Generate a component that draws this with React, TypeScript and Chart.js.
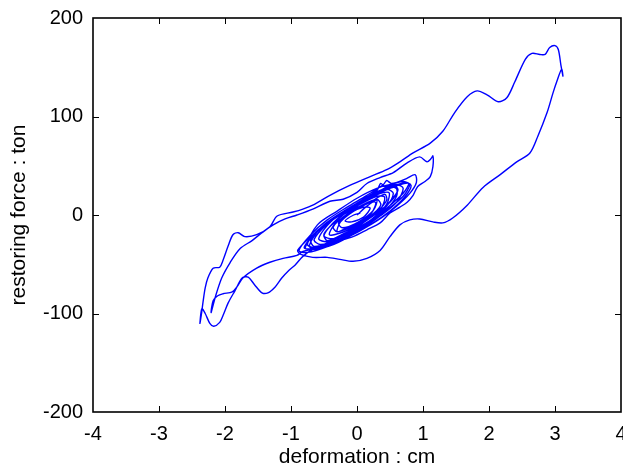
import React, { useEffect, useRef } from "react";
import { Chart, registerables } from "chart.js";

Chart.register(...registerables);

type Pt = [number, number];

const xTickValues = [-4, -3, -2, -1, 0, 1, 2, 3, 4];
const yTickValues = [-200, -100, 0, 100, 200];

const warmUpLoops: Pt[] = [
  [0, 0], [0.15, 9], [0.3, 15], [0.25, 5], [0.05, -6], [-0.15, -13], [-0.3, -17], [-0.25, -7],
  [-0.05, 4], [0.2, 13], [0.42, 21], [0.45, 15], [0.3, 3], [0.05, -10], [-0.2, -19], [-0.45, -26],
  [-0.5, -19], [-0.3, -5], [-0.05, 8], [0.25, 19], [0.55, 28], [0.62, 25], [0.5, 13], [0.2, -3],
  [-0.1, -16], [-0.4, -27], [-0.65, -32], [-0.7, -25], [-0.5, -11], [-0.2, 2], [0.15, 15],
  [0.45, 26], [0.72, 33], [0.8, 31], [0.7, 19], [0.45, 5], [0.1, -11], [-0.3, -26], [-0.62, -34],
  [-0.82, -37],
];

const middleLoopLeft: Pt[] = [
  [-0.91, -41], [-1.12, -44], [-1.32, -48], [-1.52, -54], [-1.73, -64], [-1.82, -73],
  [-1.89, -78], [-2.03, -80], [-2.11, -82], [-2.18, -87], [-2.21, -99],
];

const middleLoopUpper: Pt[] = [
  [-2.15, -84], [-2.05, -64], [-1.92, -48], [-1.77, -34], [-1.59, -26], [-1.44, -18],
  [-1.27, -10], [-1.09, -4], [-0.91, 0], [-0.67, 6], [-0.41, 14], [-0.21, 16], [0, 23],
  [0.15, 32], [0.35, 38], [0.55, 43], [0.76, 53], [0.95, 59], [1.06, 54], [1.12, 57], [1.15, 60],
];

const middleLoopReturn: Pt[] = [
  [1.15, 49], [1.11, 39], [1.03, 34], [0.92, 29], [0.85, 20], [0.76, 13], [0.65, 8], [0.5, 2],
  [0.35, -8], [0.15, -15], [-0.06, -22], [-0.26, -26], [-0.45, -29], [-0.67, -35], [-0.82, -42],
];

const bigLoopLeft: Pt[] = [
  [-0.94, -51], [-1.03, -56], [-1.14, -64], [-1.24, -73], [-1.35, -79], [-1.44, -79],
  [-1.55, -71], [-1.65, -63], [-1.74, -64], [-1.85, -77], [-1.95, -89], [-2.03, -102],
  [-2.08, -109], [-2.17, -113], [-2.23, -110], [-2.3, -100], [-2.35, -95], [-2.38, -110],
];

const bigLoopUpper: Pt[] = [
  [-2.36, -102], [-2.33, -87], [-2.3, -74], [-2.26, -64], [-2.18, -54], [-2.08, -53],
  [-2.03, -46], [-1.95, -31], [-1.88, -20], [-1.8, -18], [-1.7, -22], [-1.52, -20],
  [-1.32, -12], [-1.21, -1], [-0.97, 3], [-0.82, 6], [-0.67, 10], [-0.41, 20], [-0.11, 30],
  [0.2, 39], [0.45, 46], [0.65, 54], [0.85, 63], [1.11, 73], [1.3, 85], [1.48, 104],
  [1.67, 120], [1.82, 126], [1.97, 122], [2.14, 115], [2.27, 119], [2.39, 135], [2.55, 158],
  [2.65, 164], [2.77, 163], [2.85, 163], [2.92, 170], [3.0, 172], [3.05, 168], [3.09, 152],
  [3.12, 141],
];

const bigLoopReturn: Pt[] = [
  [3.1, 148], [3.03, 136], [2.97, 124], [2.88, 104], [2.74, 80], [2.62, 63], [2.42, 54],
  [2.17, 41], [1.91, 28], [1.67, 10], [1.45, -3], [1.3, -8], [1.15, -7], [0.95, -4], [0.8, -5],
  [0.65, -10], [0.5, -22], [0.35, -36], [0.15, -44], [-0.06, -47], [-0.26, -45], [-0.45, -43],
  [-0.67, -43], [-0.85, -40],
];

const decayLoopsLarge: Pt[] = [
  [-0.9, -36], [-0.7, -22], [-0.4, -6], [-0.1, 8], [0.2, 19], [0.5, 30], [0.75, 37], [0.88, 41],
  [0.9, 33], [0.8, 22], [0.6, 9], [0.3, -6], [-0.1, -21], [-0.45, -32], [-0.75, -38], [-0.88, -36],
  [-0.7, -20], [-0.45, -5], [-0.15, 8], [0.15, 20], [0.4, 31], [0.45, 35], [0.52, 32], [0.7, 34],
  [0.82, 30], [0.72, 18], [0.5, 4], [0.2, -10], [-0.15, -23], [-0.5, -33], [-0.78, -34],
  [-0.62, -17], [-0.3, -2], [0, 12], [0.3, 25], [0.36, 32], [0.42, 29], [0.6, 31], [0.7, 27],
  [0.6, 13], [0.35, -1], [0.05, -15], [-0.3, -27], [-0.62, -33], [-0.75, -30],
  [-0.6, -10], [-0.3, 4], [0, 17], [0.3, 27], [0.55, 31], [0.62, 25], [0.42, 8], [0.1, -11],
  [-0.2, -25], [-0.5, -33], [-0.72, -32],
  [-0.55, -13], [-0.28, -1], [0, 10], [0.32, 22], [0.62, 30], [0.78, 32], [0.7, 22], [0.4, 4],
  [0.05, -14], [-0.3, -28], [-0.6, -34], [-0.8, -33],
];

const decayLoopsSmall: Pt[] = [
  [-0.5, -10], [-0.2, 4], [0.1, 16], [0.35, 25], [0.58, 29], [0.6, 19], [0.4, 3], [0.1, -12],
  [-0.25, -24], [-0.55, -30], [-0.65, -25],
  [-0.45, -9], [-0.15, 6], [0.15, 17], [0.45, 26], [0.55, 22], [0.45, 9], [0.2, -6], [-0.1, -18],
  [-0.45, -27], [-0.58, -24],
  [-0.4, -7], [-0.1, 7], [0.2, 18], [0.48, 23], [0.45, 11], [0.25, -3], [-0.05, -15], [-0.35, -24],
  [-0.5, -21],
  [-0.3, -4], [0, 9], [0.3, 19], [0.42, 18], [0.35, 5], [0.1, -7], [-0.2, -17], [-0.42, -20],
  [-0.25, -2], [0.05, 9], [0.3, 16], [0.36, 10], [0.2, -1], [-0.05, -11], [-0.3, -17], [-0.36, -12],
  [-0.15, 1], [0.1, 10], [0.28, 13], [0.22, 2], [0, -8], [-0.22, -13], [-0.28, -8],
  [-0.1, 2], [0.1, 8], [0.2, 7], [0.1, -2], [-0.08, -7], [-0.18, -6], [-0.05, 0], [0.05, 2],
];

const pathSegments: Pt[][] = [
  warmUpLoops,
  middleLoopLeft,
  middleLoopUpper,
  middleLoopReturn,
  bigLoopLeft,
  bigLoopUpper,
  bigLoopReturn,
  decayLoopsLarge,
  decayLoopsSmall,
];

const FONT = "'Liberation Sans', Arial, Helvetica, sans-serif";

const framePlugin = {
  id: "matlabFrame",
  afterDatasetsDraw(chart: any) {
    const { ctx, chartArea, scales } = chart;
    const { left, right, top, bottom } = chartArea;
    const xs = scales.x;
    const ys = scales.y;
    const tl = 6;
    ctx.save();
    ctx.strokeStyle = "#000";
    ctx.lineWidth = 1;
    ctx.beginPath();
    xTickValues.slice(1, -1).forEach((v) => {
      const px = Math.round(xs.getPixelForValue(v)) + 0.5;
      ctx.moveTo(px, bottom);
      ctx.lineTo(px, bottom - tl);
      ctx.moveTo(px, top);
      ctx.lineTo(px, top + tl);
    });
    yTickValues.slice(1, -1).forEach((v) => {
      const py = Math.round(ys.getPixelForValue(v)) + 0.5;
      ctx.moveTo(left, py);
      ctx.lineTo(left + tl, py);
      ctx.moveTo(right, py);
      ctx.lineTo(right - tl, py);
    });
    ctx.stroke();
    ctx.lineWidth = 1.6;
    ctx.strokeRect(left, top, right - left, bottom - top);
    ctx.restore();
  },
};

export default function App() {
  const canvasRef = useRef<HTMLCanvasElement | null>(null);

  useEffect(() => {
    const canvas = canvasRef.current;
    if (!canvas) return;
    const data = pathSegments.flat().map(([x, y]) => ({ x, y }));
    const chart = new Chart(canvas, {
      type: "scatter",
      data: {
        datasets: [
          {
            data,
            showLine: true,
            borderColor: "rgb(0,0,255)",
            borderWidth: 1.4,
            pointRadius: 0,
            tension: 0.3,
            fill: false,
          },
        ],
      },
      options: {
        responsive: false,
        animation: false,
        events: [],
        layout: { padding: { top: 18, right: 2, left: 0, bottom: 0 } },
        plugins: {
          legend: { display: false },
          tooltip: { enabled: false },
        },
        scales: {
          x: {
            type: "linear",
            min: -4,
            max: 4,
            afterBuildTicks: (s: any) => {
              s.ticks = xTickValues.map((v) => ({ value: v }));
            },
            afterFit: (s: any) => {
              s.height = 60;
              s.paddingLeft = 0;
              s.paddingRight = 0;
            },
            grid: { display: false, drawTicks: false },
            border: { display: false },
            ticks: {
              color: "#000",
              padding: 10,
              maxRotation: 0,
              autoSkip: false,
              font: { family: FONT, size: 20 },
            },
            title: {
              display: true,
              text: "deformation : cm",
              color: "#000",
              font: { family: FONT, size: 21 },
              padding: { top: 0, bottom: 2 },
            },
          },
          y: {
            type: "linear",
            min: -200,
            max: 200,
            afterBuildTicks: (s: any) => {
              s.ticks = yTickValues.map((v) => ({ value: v }));
            },
            afterFit: (s: any) => {
              s.width = 93;
              s.paddingTop = 0;
              s.paddingBottom = 0;
            },
            grid: { display: false, drawTicks: false },
            border: { display: false },
            ticks: {
              color: "#000",
              padding: 10,
              autoSkip: false,
              font: { family: FONT, size: 20 },
            },
            title: {
              display: true,
              text: "restoring force : ton",
              color: "#000",
              font: { family: FONT, size: 21 },
              padding: { top: 7, bottom: 0 },
            },
          },
        },
      },
      plugins: [framePlugin],
    });
    return () => chart.destroy();
  }, []);

  return (
    <div style={{ position: "fixed", left: 0, top: 0, width: 623, height: 472, background: "#fff" }}>
      <canvas ref={canvasRef} width={623} height={472} style={{ display: "block" }} />
    </div>
  );
}
